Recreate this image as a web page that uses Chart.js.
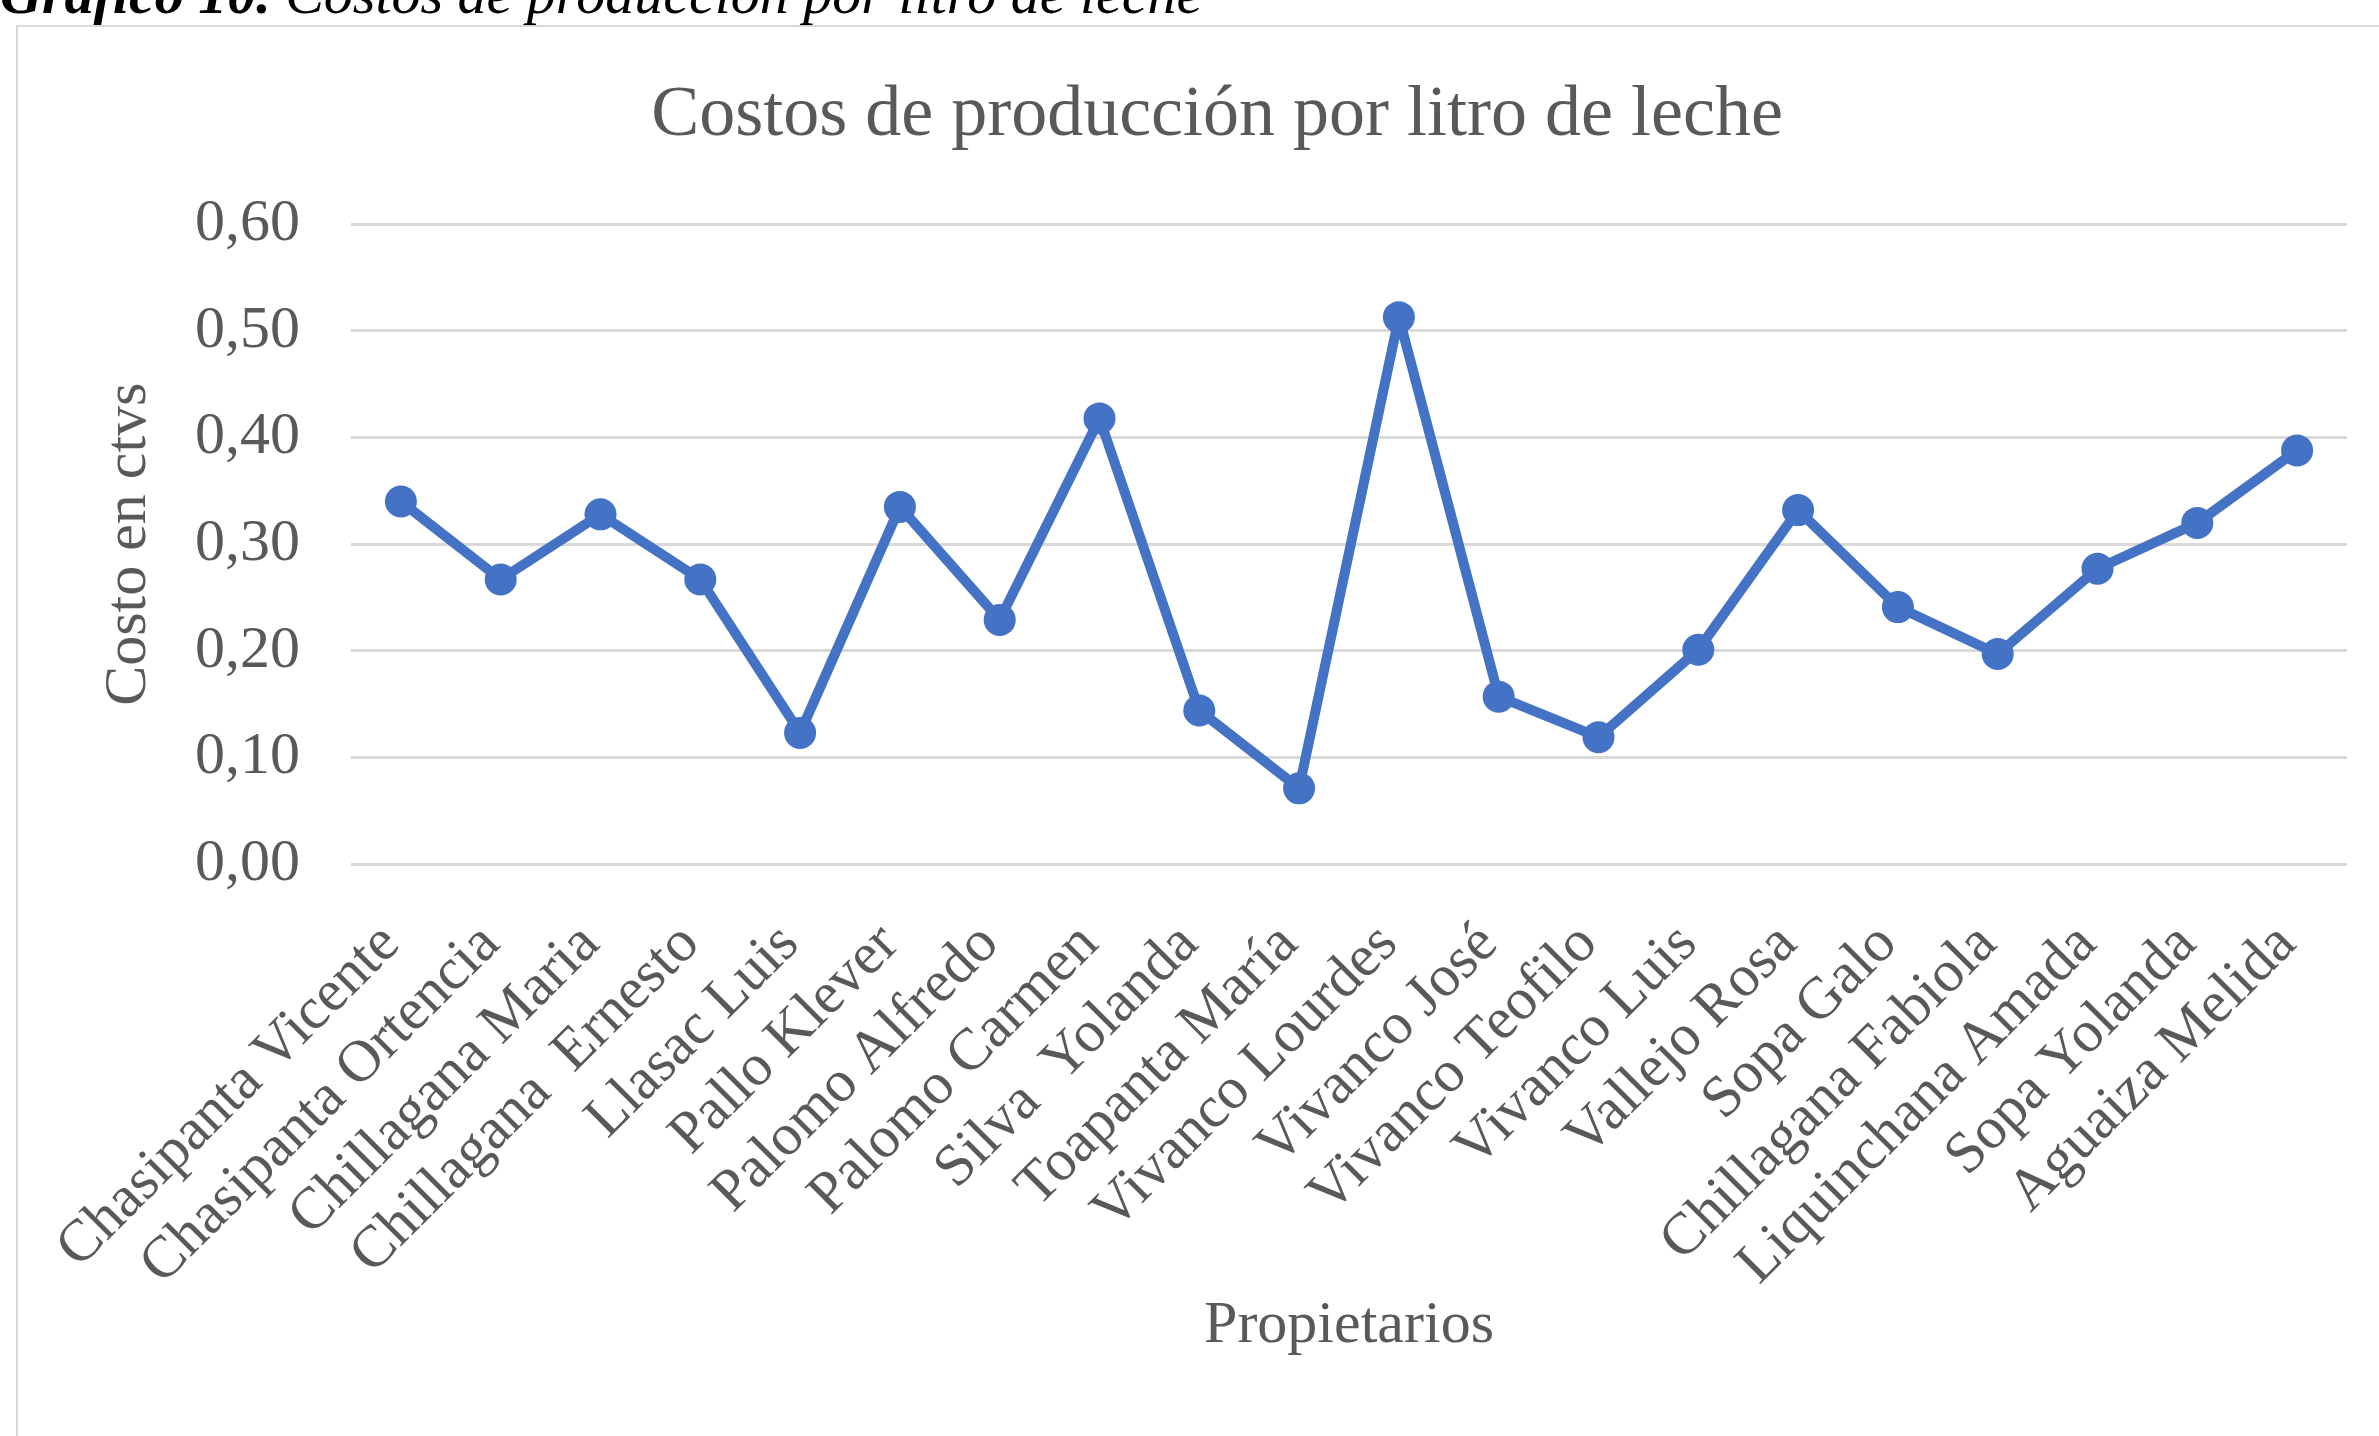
<!DOCTYPE html>
<html lang="es">
<head>
<meta charset="utf-8">
<title>Costos de producción por litro de leche</title>
<script src="https://cdn.jsdelivr.net/npm/chart.js@4.4.1/dist/chart.umd.min.js"></script>
<style>
  html, body { margin: 0; padding: 0; background: #ffffff; overflow: hidden; width: 2379px; height: 1436px; }
  .caption {
    position: absolute; left: 0; top: -35px;
    font: italic 58px/58px "Liberation Serif", "Times New Roman", serif;
    color: #000000; white-space: nowrap;
  }
  .frame {
    position: absolute; left: 16px; top: 25px;
    width: 2398px; height: 1429px;
    border: 2px solid #d9d9d9;
  }
  .frame canvas { display: block; }
</style>
</head>
<body>
<div class="caption"><b>Gráfico 10.</b> Costos de producción por litro de leche</div>
<div class="frame"><canvas id="chart" width="2398" height="1429"></canvas></div>
<script>
// Owners (x axis categories)
const propietarios = [
  'Chasipanta Vicente', 'Chasipanta Ortencia', 'Chillagana Maria', 'Chillagana  Ernesto',
  'Llasac Luis', 'Pallo Klever', 'Palomo Alfredo', 'Palomo Carmen', 'Silva  Yolanda',
  'Toapanta María', 'Vivanco Lourdes', 'Vivanco José', 'Vivanco Teofilo', 'Vivanco Luis',
  'Vallejo Rosa', 'Sopa Galo', 'Chillagana Fabiola', 'Liquinchana Amada', 'Sopa Yolanda',
  'Aguaiza Melida'
];

// Production cost per litre of milk (ctvs)
const costoPorLitro = [
  0.340, 0.267, 0.328, 0.267, 0.123, 0.335, 0.229, 0.418, 0.144, 0.071,
  0.513, 0.157, 0.119, 0.201, 0.332, 0.241, 0.197, 0.277, 0.320, 0.388
];

// Value axis ticks and their printed labels
const yTicks = [0, 0.1, 0.2, 0.3, 0.4, 0.5, 0.6];
const yTickLabels = ['0,00', '0,10', '0,20', '0,30', '0,40', '0,50', '0,60'];

const chartTitle = 'Costos de producción por litro de leche';
const yAxisTitle = 'Costo en ctvs';
const xAxisTitle = 'Propietarios';

const serif = '"Liberation Serif", "Times New Roman", serif';
const textGray = '#595959';
const lineBlue = '#4472C4';

new Chart(document.getElementById('chart'), {
  type: 'line',
  data: {
    labels: propietarios,
    datasets: [{
      label: chartTitle,
      data: costoPorLitro,
      borderColor: lineBlue,
      backgroundColor: lineBlue,
      borderWidth: 10,
      borderCapStyle: 'round',
      borderJoinStyle: 'round',
      tension: 0,
      pointRadius: 16,
      pointHoverRadius: 16,
      pointBorderWidth: 0,
      pointBackgroundColor: lineBlue
    }]
  },
  options: {
    responsive: false,
    animation: false,
    layout: { padding: 0 },
    plugins: {
      legend: { display: false },
      tooltip: { enabled: false },
      title: {
        display: true,
        text: chartTitle,
        color: textGray,
        font: { family: serif, size: 72, weight: 'normal' },
        padding: { top: 46, bottom: 65 }
      }
    },
    scales: {
      x: {
        offset: true,
        grid: { display: false, drawTicks: false },
        border: { display: false },
        ticks: {
          autoSkip: false,
          maxRotation: 45,
          minRotation: 45,
          padding: 46,
          labelOffset: -10,
          color: textGray,
          font: { family: serif, size: 59 }
        },
        title: {
          display: true,
          text: xAxisTitle,
          color: textGray,
          font: { family: serif, size: 60 },
          padding: { top: 0, bottom: 94 }
        },
        afterFit(scale) { scale.height = 592; }
      },
      y: {
        min: 0,
        max: 0.6,
        afterBuildTicks(scale) { scale.ticks = yTicks.map(v => ({ value: v })); },
        grid: { color: '#d9d9d9', lineWidth: 3, drawTicks: false },
        border: { display: false },
        ticks: {
          padding: 51,
          color: textGray,
          font: { family: serif, size: 60 },
          callback: (value, index) => yTickLabels[index]
        },
        title: {
          display: true,
          text: yAxisTitle,
          color: textGray,
          font: { family: serif, size: 60 },
          padding: { top: 75, bottom: 0 }
        },
        afterFit(scale) { scale.width = 333; }
      },
      // empty margin on the right of the plot area
      margenDerecho: {
        type: 'linear',
        position: 'right',
        min: 0,
        max: 1,
        grid: { display: false, drawTicks: false },
        border: { display: false },
        ticks: { display: false },
        afterFit(scale) { scale.width = 69; }
      }
    }
  }
});
</script>
</body>
</html>
